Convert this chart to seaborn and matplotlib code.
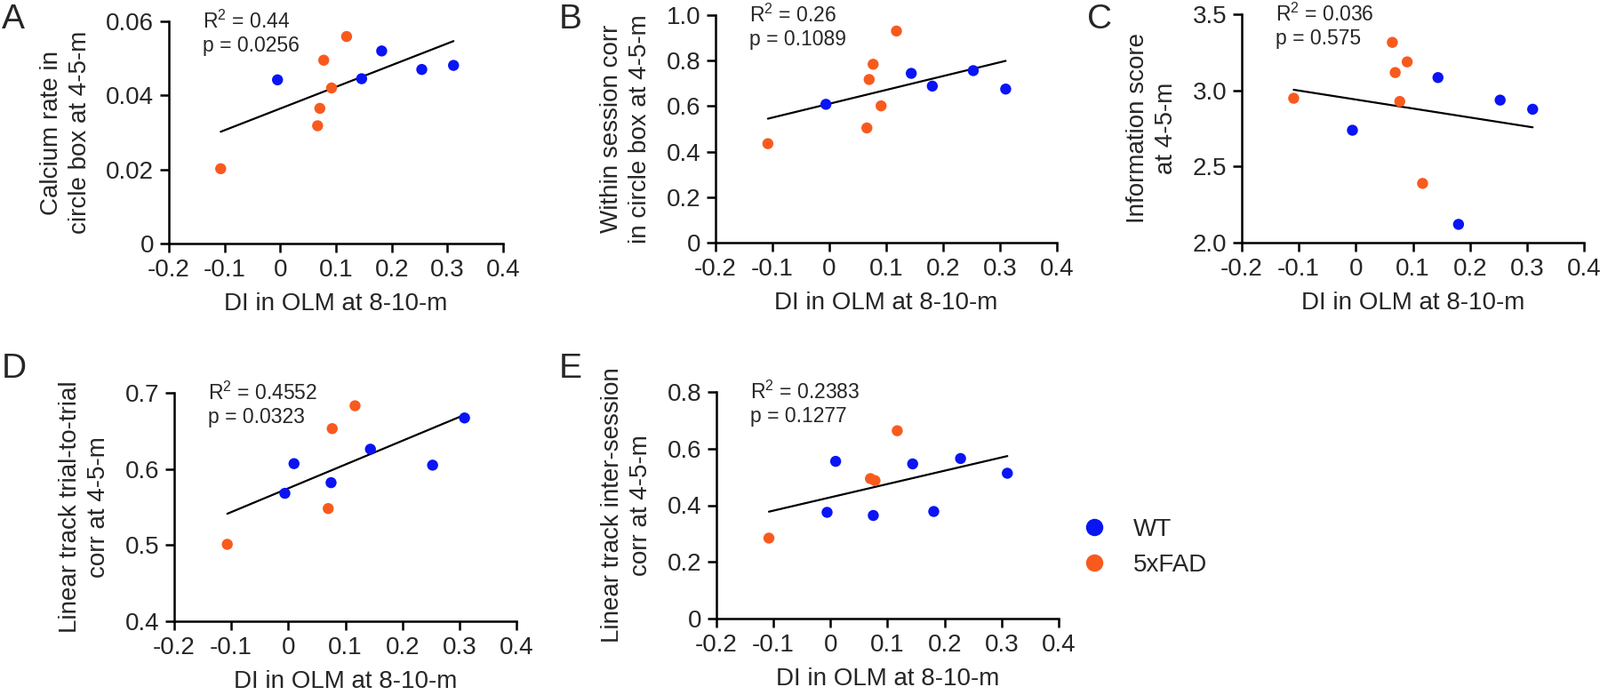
import matplotlib
matplotlib.use("Agg")
import matplotlib.pyplot as plt
import pandas as pd
import seaborn as sns

# Data (DI in OLM at 8-10-m vs. measures at 4-5-m)
a_wt_x = [-0.005, 0.146, 0.182, 0.254, 0.311]
a_wt_y = [0.0442, 0.0445, 0.0520, 0.0470, 0.0481]
a_fad_x = [-0.107, 0.067, 0.071, 0.078, 0.092, 0.119]
a_fad_y = [0.0202, 0.0318, 0.0365, 0.0495, 0.0420, 0.0559]

b_wt_x = [-0.006, 0.144, 0.181, 0.253, 0.310]
b_wt_y = [0.608, 0.744, 0.688, 0.756, 0.675]
b_fad_x = [-0.108, 0.066, 0.070, 0.077, 0.091, 0.118]
b_fad_y = [0.435, 0.504, 0.717, 0.784, 0.601, 0.930]

c_wt_x = [-0.006, 0.144, 0.180, 0.253, 0.310]
c_wt_y = [2.738, 3.084, 2.120, 2.936, 2.876]
c_fad_x = [-0.109, 0.064, 0.069, 0.077, 0.090, 0.117]
c_fad_y = [2.948, 3.315, 3.117, 2.927, 3.187, 2.389]

d_wt_x = [-0.006, 0.010, 0.075, 0.144, 0.253, 0.309]
d_wt_y = [0.568, 0.607, 0.582, 0.626, 0.605, 0.667]
d_fad_x = [-0.107, 0.070, 0.077, 0.117]
d_fad_y = [0.501, 0.548, 0.653, 0.683]

e_wt_x = [-0.006, 0.009, 0.075, 0.144, 0.181, 0.228, 0.310]
e_wt_y = [0.375, 0.555, 0.364, 0.546, 0.378, 0.565, 0.513]
e_fad_x = [-0.108, 0.070, 0.078, 0.117]
e_fad_y = [0.284, 0.494, 0.487, 0.663]

x_ticks = [-0.2, -0.1, 0, 0.1, 0.2, 0.3, 0.4]
x_ticklabels = ["-0.2", "-0.1", "0", "0.1", "0.2", "0.3", "0.4"]

a_ticks = [0, 0.02, 0.04, 0.06]
a_ticklabels = ["0", "0.02", "0.04", "0.06"]
b_ticks = [0, 0.2, 0.4, 0.6, 0.8, 1.0]
b_ticklabels = ["0", "0.2", "0.4", "0.6", "0.8", "1.0"]
c_ticks = [2.0, 2.5, 3.0, 3.5]
c_ticklabels = ["2.0", "2.5", "3.0", "3.5"]
d_ticks = [0.4, 0.5, 0.6, 0.7]
d_ticklabels = ["0.4", "0.5", "0.6", "0.7"]
e_ticks = [0, 0.2, 0.4, 0.6, 0.8]
e_ticklabels = ["0", "0.2", "0.4", "0.6", "0.8"]

stats = {
    "A": ("0.44", "0.0256"),
    "B": ("0.26", "0.1089"),
    "C": ("0.036", "0.575"),
    "D": ("0.4552", "0.0323"),
    "E": ("0.2383", "0.1277"),
}

ylabels = {
    "A": "Calcium rate in\ncircle box at 4-5-m",
    "B": "Within session corr\nin circle box at 4-5-m",
    "C": "Information score\nat 4-5-m",
    "D": "Linear track trial-to-trial\ncorr at 4-5-m",
    "E": "Linear track inter-session\ncorr at 4-5-m",
}
xlabel = "DI in OLM at 8-10-m"

groups = ["WT", "5xFAD"]
palette = {"WT": "#0A14F5", "5xFAD": "#F85A1E"}

sns.set_theme(style="ticks")
plt.rcParams["font.family"] = ["Liberation Sans", "DejaVu Sans"]
plt.rcParams["axes.unicode_minus"] = False
plt.rcParams["mathtext.default"] = "regular"


def make_df(wx, wy, fx, fy):
    return pd.DataFrame({
        "x": wx + fx,
        "y": wy + fy,
        "group": ["WT"] * len(wx) + ["5xFAD"] * len(fx),
    })


panels = {
    "A": (make_df(a_wt_x, a_wt_y, a_fad_x, a_fad_y), a_ticks, a_ticklabels),
    "B": (make_df(b_wt_x, b_wt_y, b_fad_x, b_fad_y), b_ticks, b_ticklabels),
    "C": (make_df(c_wt_x, c_wt_y, c_fad_x, c_fad_y), c_ticks, c_ticklabels),
    "D": (make_df(d_wt_x, d_wt_y, d_fad_x, d_fad_y), d_ticks, d_ticklabels),
    "E": (make_df(e_wt_x, e_wt_y, e_fad_x, e_fad_y), e_ticks, e_ticklabels),
}

# axes boxes in pixels: left, top, width, height (figure is 1800 x 782)
W, H = 1800, 782
boxes = {
    "A": (190, 24, 376, 250),
    "B": (805, 17, 384, 256),
    "C": (1397, 16, 385, 257),
    "D": (196, 442, 385, 257),
    "E": (806, 441, 385, 255),
}
letter_pos = {"A": (2, 32), "B": (629, 32), "C": (1223, 32), "D": (2, 425), "E": (629, 425)}

fig = plt.figure(figsize=(18, 7.82), dpi=100)

for key, (df, yt, ytl) in panels.items():
    l, t, w, h = boxes[key]
    ax = fig.add_axes([l / W, (H - t - h) / H, w / W, h / H])

    sns.scatterplot(data=df, x="x", y="y", hue="group", hue_order=groups,
                    palette=palette, s=80, linewidth=0, legend=False, ax=ax,
                    zorder=3)
    sns.regplot(data=df, x="x", y="y", scatter=False, ci=None, truncate=True,
                line_kws={"color": "black", "lw": 1.6}, ax=ax)

    ax.set_xlim(-0.2, 0.4)
    ax.set_ylim(yt[0], yt[-1])
    ax.set_xticks(x_ticks)
    ax.set_xticklabels(x_ticklabels)
    ax.set_yticks(yt)
    ax.set_yticklabels(ytl)
    ax.tick_params(labelsize=20, length=7, width=1.8, pad=5, color="black")
    for side in ["left", "bottom"]:
        ax.spines[side].set_linewidth(1.8)
        ax.spines[side].set_color("black")
    sns.despine(ax=ax)

    ax.set_xlabel(xlabel, fontsize=20, labelpad=9)
    ax.set_ylabel(ylabels[key], fontsize=20, labelpad=12, linespacing=1.3)

    r2, p = stats[key]
    ax.annotate("R$^{2}$ = " + r2 + "\np = " + p, xy=(0, 1),
                xycoords="axes fraction", xytext=(38, 12),
                textcoords="offset pixels", ha="left", va="top",
                fontsize=16.5, linespacing=1.15)

    lx, ly = letter_pos[key]
    fig.text(lx / W, 1 - ly / H, key, fontsize=28, ha="left", va="baseline")

# legend for genotype
handles = [plt.Line2D([], [], marker="o", ls="", color=palette[g],
                      markersize=13) for g in groups]
fig.legend(handles, groups, loc="center left",
           bbox_to_anchor=(1178 / W, 1 - 616 / H), frameon=False,
           fontsize=20, handletextpad=0.6, labelspacing=0.5)

fig.savefig("out.png", dpi=100)
